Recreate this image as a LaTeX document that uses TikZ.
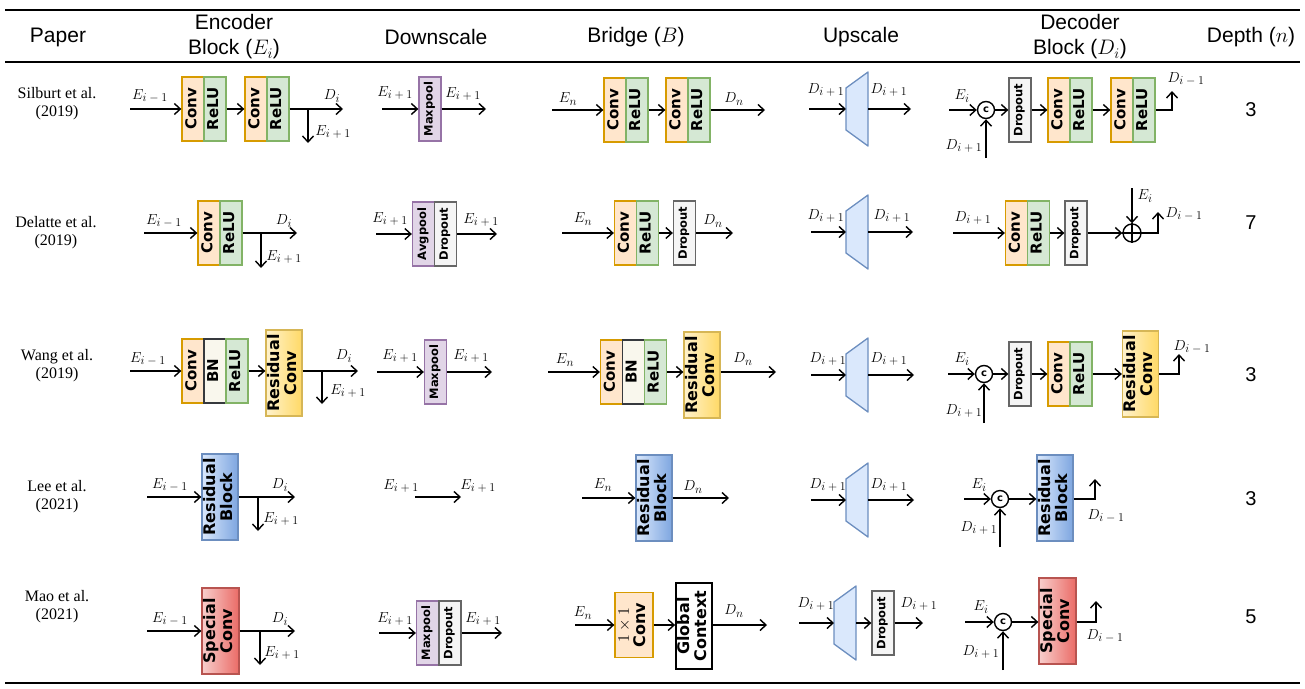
\documentclass[tikz,border=0pt]{standalone}
\usepackage{fix-cm}
\usepackage{fontspec}
\setmainfont{Liberation Serif}
\newfontfamily\hdrfont{Liberation Sans}
\newfontfamily\blkfont{DejaVu Sans}
\usepackage{graphicx}
\usetikzlibrary{arrows.meta}
\newcommand\sub[1]{_{\hbox{\fontsize{12}{12}\selectfont$#1$}}}
\definecolor{convF}{HTML}{FFE6CC}\definecolor{convD}{HTML}{D79B00}
\definecolor{reluF}{HTML}{D5E8D4}\definecolor{reluD}{HTML}{82B366}
\definecolor{bnF}{HTML}{F9F7ED}\definecolor{bnD}{HTML}{36393D}
\definecolor{poolF}{HTML}{E1D5E7}\definecolor{poolD}{HTML}{9673A6}
\definecolor{dropF}{HTML}{F5F5F5}\definecolor{dropD}{HTML}{666666}
\definecolor{rcF}{HTML}{FFF2CC}\definecolor{rcG}{HTML}{FFD966}\definecolor{rcD}{HTML}{D6B656}
\definecolor{rbF}{HTML}{DAE8FC}\definecolor{rbG}{HTML}{7EA6E0}\definecolor{rbD}{HTML}{6C8EBF}
\definecolor{scF}{HTML}{F8CECC}\definecolor{scG}{HTML}{EA6B66}\definecolor{scD}{HTML}{B85450}
\newcommand\vt[2][15]{\rotatebox{90}{\fontsize{#1}{#1}\selectfont\blkfont\bfseries\begin{tabular}{@{}c@{}}#2\end{tabular}}}
\tikzset{
 box/.style={draw, line width=1.3pt, inner sep=0pt, minimum width=22pt, minimum height=64pt},
 wide/.style={minimum width=36pt, minimum height=86pt},
 convb/.style={box, fill=convF, draw=convD},
 relub/.style={box, fill=reluF, draw=reluD},
 bnb/.style={box, fill=bnF, draw=bnD},
 poolb/.style={box, fill=poolF, draw=poolD},
 dropb/.style={box, fill=dropF, draw=dropD},
 rconvb/.style={box, wide, left color=rcF, right color=rcG, draw=rcD},
 rblockb/.style={box, wide, left color=rbF, right color=rbG, draw=rbD},
 specb/.style={box, wide, minimum width=37pt, left color=scF, right color=scG, draw=scD},
 gcb/.style={box, wide, fill=white, draw=black, line width=1.8pt},
 arr/.style={line width=1.4pt, -{Straight Barb[length=6pt,width=11pt]}},
 ln/.style={line width=1.4pt},
 lab/.style={inner sep=0pt, font=\fontsize{14.5}{15}\selectfont},
 paper/.style={align=center, font=\fontsize{16}{18}\selectfont},
 hdr/.style={align=center, font=\hdrfont\fontsize{21}{25}\selectfont},
 depth/.style={font=\hdrfont\fontsize{20}{20}\selectfont},
 cat/.style={circle, draw, fill=white, line width=1.4pt, minimum size=17pt, inner sep=0pt, font=\blkfont\bfseries\fontsize{10}{10}\selectfont},
 plus/.style={circle, draw, line width=1.4pt, minimum size=18pt, inner sep=0pt},
 trapS/.style={draw=rbD, fill=rbF, line width=1.3pt, line join=round},
}
\newcommand\trap[3]{%
 \coordinate (#1l) at (#2,#3);
 \coordinate (#1r) at ({#2+22},#3);
 \draw[trapS] (#2,{#3-21}) -- ({#2+22},{#3-37}) -- ({#2+22},{#3+37}) -- (#2,{#3+21}) -- cycle;}
\begin{document}
\begin{tikzpicture}[x=1pt,y=-1pt]
\useasboundingbox (0,0) rectangle (1305,688);
% rules
\draw[line width=2pt] (5,10) -- (1300,10);
\draw[line width=1.8pt] (5,62) -- (1300,62);
\draw[line width=2pt] (5,683) -- (1300,683);
% headers
\node[hdr] (hP) at (58,37) {Paper};
\node[hdr] (hE) at (234,37) {Encoder\\Block ($E_i$)};
\node[hdr] (hDs) at (436,37) {Downscale};
\node[hdr] (hB) at (636,37) {Bridge ($B$)};
\node[hdr] (hU) at (861,37) {Upscale};
\node[hdr] (hD) at (1080,37) {Decoder\\Block ($D_i$)};
\node[hdr] (hN) at (1251,37) {Depth ($n$)};

%% ---------------- Row 1 ----------------
\node[paper] (p1) at (57,104) {Silburt et al.\\(2019)};
\coordinate (r1in) at (130,109);
\node[convb] (r1c1) at (193,109) {\vt{Conv}};
\node[relub] (r1r1) at (215,109) {\vt{ReLU}};
\node[convb] (r1c2) at (256,109) {\vt{Conv}};
\node[relub] (r1r2) at (278,109) {\vt{ReLU}};
\coordinate (r1out) at (343,109);
\coordinate (r1br) at (308,109);
\coordinate (r1bre) at (308,143);
\draw[arr] (r1in) -- (r1c1);
\draw[arr] (r1r1) -- (r1c2);
\draw[arr] (r1r2) -- (r1out);
\draw[arr] (r1br) -- (r1bre);
\node[lab] (r1l1) at (150,96) {$E\sub{i-1}$};
\node[lab] (r1l2) at (332,96) {$D\sub{i}$};
\node[lab] (r1l3) at (333,132) {$E\sub{i+1}$};
% downscale
\coordinate (r1din) at (382,109);
\node[poolb] (r1mp) at (430,109) {\vt[11.5]{Maxpool}};
\coordinate (r1dout) at (486,109);
\draw[arr] (r1din) -- (r1mp);
\draw[arr] (r1mp) -- (r1dout);
\node[lab] (r1l4) at (395,93) {$E\sub{i+1}$};
\node[lab] (r1l5) at (463,94) {$E\sub{i+1}$};
% bridge
\coordinate (r1bin) at (552,110);
\node[convb] (r1bc1) at (615,110) {\vt{Conv}};
\node[relub] (r1br1) at (637,110) {\vt{ReLU}};
\node[convb] (r1bc2) at (677,110) {\vt{Conv}};
\node[relub] (r1br2) at (699,110) {\vt{ReLU}};
\coordinate (r1bout) at (765,110);
\draw[arr] (r1bin) -- (r1bc1);
\draw[arr] (r1br1) -- (r1bc2);
\draw[arr] (r1br2) -- (r1bout);
\node[lab] (r1l6) at (568,99) {$E\sub{n}$};
\node[lab] (r1l7) at (734,99) {$D\sub{n}$};
% upscale
\coordinate (r1uin) at (809,109);
\trap{r1t}{846}{109}
\coordinate (r1uout) at (911,109);
\draw[arr] (r1uin) -- (r1tl);
\draw[arr] (r1tr) -- (r1uout);
\node[lab] (r1l8) at (826,90) {$D\sub{i+1}$};
\node[lab] (r1l9) at (889,90) {$D\sub{i+1}$};
% decoder
\coordinate (r1ei) at (949,110);
\node[cat] (r1cat) at (986,110) {c};
\coordinate (r1db) at (986,158);
\node[dropb] (r1dd) at (1020,110) {\vt[11.5]{Dropout}};
\node[convb] (r1dc1) at (1059,110) {\vt{Conv}};
\node[relub] (r1dr1) at (1081,110) {\vt{ReLU}};
\node[convb] (r1dc2) at (1122,110) {\vt{Conv}};
\node[relub] (r1dr2) at (1144,110) {\vt{ReLU}};
\coordinate (r1dk) at (1172,110);
\coordinate (r1de) at (1172,91);
\draw[arr] (r1ei) -- (r1cat);
\draw[arr] (r1db) -- (r1cat);
\draw[arr] (r1cat) -- (r1dd);
\draw[arr] (r1dd) -- (r1dc1);
\draw[arr] (r1dr1) -- (r1dc2);
\draw[arr] (r1dr2) -- (r1dk) -- (r1de);
\node[lab] (r1l10) at (962,96) {$E\sub{i}$};
\node[lab] (r1l11) at (964,146) {$D\sub{i+1}$};
\node[lab] (r1l12) at (1186,79) {$D\sub{i-1}$};
\node[depth] (n1) at (1251,110) {3};

%% ---------------- Row 2 ----------------
\node[paper] (p2) at (56,233) {Delatte et al.\\(2019)};
\coordinate (r2in) at (144,233);
\node[convb] (r2c) at (209,233) {\vt{Conv}};
\node[relub] (r2r) at (231,233) {\vt{ReLU}};
\coordinate (r2out) at (297,233);
\coordinate (r2br) at (261,233);
\coordinate (r2bre) at (261,268);
\draw[arr] (r2in) -- (r2c);
\draw[arr] (r2r) -- (r2out);
\draw[arr] (r2br) -- (r2bre);
\node[lab] (r2l1) at (164,221) {$E\sub{i-1}$};
\node[lab] (r2l2) at (284,221) {$D\sub{i}$};
\node[lab] (r2l3) at (284,257) {$E\sub{i+1}$};
% downscale
\coordinate (r2din) at (376,234);
\node[poolb] (r2ap) at (423.5,234) {\vt[11.5]{Avgpool}};
\node[dropb] (r2dp) at (445.5,234) {\vt[11.5]{Dropout}};
\coordinate (r2dout) at (497,234);
\draw[arr] (r2din) -- (r2ap);
\draw[arr] (r2dp) -- (r2dout);
\node[lab] (r2l4) at (390,219) {$E\sub{i+1}$};
\node[lab] (r2l5) at (481,220) {$E\sub{i+1}$};
% bridge
\coordinate (r2bin) at (562,233);
\node[convb] (r2bc) at (625.5,233) {\vt{Conv}};
\node[relub] (r2brl) at (647.5,233) {\vt{ReLU}};
\node[dropb] (r2bd) at (684.5,233) {\vt[11.5]{Dropout}};
\coordinate (r2bout) at (733,233);
\draw[arr] (r2bin) -- (r2bc);
\draw[arr] (r2brl) -- (r2bd);
\draw[arr] (r2bd) -- (r2bout);
\node[lab] (r2l6) at (583,219) {$E\sub{n}$};
\node[lab] (r2l7) at (713,221) {$D\sub{n}$};
% upscale
\coordinate (r2uin) at (811,232);
\trap{r2t}{846}{232}
\coordinate (r2uout) at (913,232);
\draw[arr] (r2uin) -- (r2tl);
\draw[arr] (r2tr) -- (r2uout);
\node[lab] (r2l8) at (826,216) {$D\sub{i+1}$};
\node[lab] (r2l9) at (892,216) {$D\sub{i+1}$};
% decoder
\coordinate (r2din2) at (953,233);
\node[convb] (r2dc) at (1016.5,233) {\vt{Conv}};
\node[relub] (r2dr) at (1038.5,233) {\vt{ReLU}};
\node[dropb] (r2dd) at (1076,233) {\vt[11.5]{Dropout}};
\node[plus] (r2pl) at (1132,233) {};
\draw[ln] (r2pl.north) -- (r2pl.south) (r2pl.west) -- (r2pl.east);
\coordinate (r2et) at (1132,188);
\coordinate (r2dk) at (1158,233);
\coordinate (r2de) at (1158,212);
\draw[arr] (r2din2) -- (r2dc);
\draw[arr] (r2dr) -- (r2dd);
\draw[arr] (r2dd) -- (r2pl);
\draw[arr] (r2et) -- (r2pl);
\draw[arr] (r2pl) -- (r2dk) -- (r2de);
\node[lab] (r2l12) at (973,218) {$D\sub{i+1}$};
\node[lab] (r2l10) at (1145,196) {$E\sub{i}$};
\node[lab] (r2l11) at (1184,214) {$D\sub{i-1}$};
\node[depth] (n2) at (1251,223) {7};

%% ---------------- Row 3 ----------------
\node[paper] (p3) at (57,366) {Wang et al.\\(2019)};
\coordinate (r3in) at (130,371);
\node[convb] (r3c) at (193,371) {\vt{Conv}};
\node[bnb] (r3bn) at (215,371) {\vt{BN}};
\node[relub] (r3r) at (237,371) {\vt{ReLU}};
\node[rconvb] (r3rc) at (284,373) {\vt[16]{Residual\\Conv}};
\coordinate (r3out) at (358,371);
\coordinate (r3br) at (322,371);
\coordinate (r3bre) at (322,404);
\draw[arr] (r3in) -- (r3c);
\draw[arr] (r3r) -- (r3r -| r3rc.west);
\draw[arr] (r3rc.east |- r3out) -- (r3out);
\draw[arr] (r3br) -- (r3bre);
\node[lab] (r3l1) at (148,359) {$E\sub{i-1}$};
\node[lab] (r3l2) at (344,356) {$D\sub{i}$};
\node[lab] (r3l3) at (348,391) {$E\sub{i+1}$};
% downscale
\coordinate (r3din) at (377,372);
\node[poolb] (r3mp) at (435.5,372) {\vt[11.5]{Maxpool}};
\coordinate (r3dout) at (492,372);
\draw[arr] (r3din) -- (r3mp);
\draw[arr] (r3mp) -- (r3dout);
\node[lab] (r3l4) at (400,356) {$E\sub{i+1}$};
\node[lab] (r3l5) at (471,356) {$E\sub{i+1}$};
% bridge
\coordinate (r3bin) at (548,372);
\node[convb] (r3bc) at (611.5,372) {\vt{Conv}};
\node[bnb] (r3bbn) at (633.5,372) {\vt{BN}};
\node[relub] (r3brl) at (655.5,372) {\vt{ReLU}};
\node[rconvb] (r3brc) at (702,375) {\vt[16]{Residual\\Conv}};
\coordinate (r3bout) at (776,372);
\draw[arr] (r3bin) -- (r3bc);
\draw[arr] (r3brl) -- (r3brl -| r3brc.west);
\draw[arr] (r3brc.east |- r3bout) -- (r3bout);
\node[lab] (r3l6) at (565,360) {$E\sub{n}$};
\node[lab] (r3l7) at (743,359) {$D\sub{n}$};
% upscale
\coordinate (r3uin) at (811,375);
\trap{r3t}{846}{375}
\coordinate (r3uout) at (914,375);
\draw[arr] (r3uin) -- (r3tl);
\draw[arr] (r3tr) -- (r3uout);
\node[lab] (r3l8) at (828,359) {$D\sub{i+1}$};
\node[lab] (r3l9) at (889,359) {$D\sub{i+1}$};
% decoder
\coordinate (r3ei) at (948,374);
\node[cat] (r3cat) at (984,374) {c};
\coordinate (r3db) at (984,423);
\node[dropb] (r3dd) at (1020,374) {\vt[11.5]{Dropout}};
\node[convb] (r3dc) at (1059,374) {\vt{Conv}};
\node[relub] (r3dr) at (1081,374) {\vt{ReLU}};
\node[rconvb] (r3drc) at (1140.5,374) {\vt[16]{Residual\\Conv}};
\coordinate (r3dk) at (1179,374);
\coordinate (r3de) at (1179,354);
\draw[arr] (r3ei) -- (r3cat);
\draw[arr] (r3db) -- (r3cat);
\draw[arr] (r3cat) -- (r3dd);
\draw[arr] (r3dd) -- (r3dc);
\draw[arr] (r3dr) -- (r3drc);
\draw[arr] (r3drc) -- (r3dk) -- (r3de);
\node[lab] (r3l10) at (962,359) {$E\sub{i}$};
\node[lab] (r3l11) at (964,411) {$D\sub{i+1}$};
\node[lab] (r3l12) at (1192,347) {$D\sub{i-1}$};
\node[depth] (n3) at (1251,375) {3};

%% ---------------- Row 4 ----------------
\node[paper] (p4) at (57,497) {Lee et al.\\(2021)};
\coordinate (r4in) at (147,497);
\node[rblockb] (r4rb) at (220,497) {\vt[16]{Residual\\Block}};
\coordinate (r4out) at (295,497);
\coordinate (r4br) at (258,497);
\coordinate (r4bre) at (258,531);
\draw[arr] (r4in) -- (r4rb);
\draw[arr] (r4rb) -- (r4out);
\draw[arr] (r4br) -- (r4bre);
\node[lab] (r4l1) at (170,485) {$E\sub{i-1}$};
\node[lab] (r4l2) at (280,485) {$D\sub{i}$};
\node[lab] (r4l3) at (281,519) {$E\sub{i+1}$};
% downscale
\coordinate (r4din) at (415,497);
\coordinate (r4dout) at (461,497);
\draw[arr] (r4din) -- (r4dout);
\node[lab] (r4l4) at (401,486) {$E\sub{i+1}$};
\node[lab] (r4l5) at (478,486) {$E\sub{i+1}$};
% bridge
\coordinate (r4bin) at (582,498);
\node[rblockb] (r4brb) at (654,498) {\vt[16]{Residual\\Block}};
\coordinate (r4bout) at (729,498);
\draw[arr] (r4bin) -- (r4brb);
\draw[arr] (r4brb) -- (r4bout);
\node[lab] (r4l6) at (603,485) {$E\sub{n}$};
\node[lab] (r4l7) at (693,487) {$D\sub{n}$};
% upscale
\coordinate (r4uin) at (811,500);
\trap{r4t}{846}{500}
\coordinate (r4uout) at (914,500);
\draw[arr] (r4uin) -- (r4tl);
\draw[arr] (r4tr) -- (r4uout);
\node[lab] (r4l8) at (828,485) {$D\sub{i+1}$};
\node[lab] (r4l9) at (889,485) {$D\sub{i+1}$};
% decoder
\coordinate (r4ei) at (964,499);
\node[cat] (r4cat) at (1000,499) {c};
\coordinate (r4db) at (1000,547);
\node[rblockb] (r4drb) at (1055,498) {\vt[16]{Residual\\Block}};
\coordinate (r4dk) at (1095,499);
\coordinate (r4de) at (1095,479);
\draw[arr] (r4ei) -- (r4cat);
\draw[arr] (r4db) -- (r4cat);
\draw[arr] (r4cat) -- (r4cat -| r4drb.west);
\draw[arr] (r4drb.east |- r4dk) -- (r4dk) -- (r4de);
\node[lab] (r4l10) at (979,485) {$E\sub{i}$};
\node[lab] (r4l11) at (979,528) {$D\sub{i+1}$};
\node[lab] (r4l12) at (1106,516) {$D\sub{i-1}$};
\node[depth] (n4) at (1251,499) {3};

%% ---------------- Row 5 ----------------
\node[paper] (p5) at (57,607) {Mao et al.\\(2021)};
\coordinate (r5in) at (147,631);
\node[specb] (r5sc) at (220.5,631) {\vt[16]{Special\\Conv}};
\coordinate (r5out) at (295,631);
\coordinate (r5br) at (260,631);
\coordinate (r5bre) at (260,665);
\draw[arr] (r5in) -- (r5sc);
\draw[arr] (r5sc) -- (r5out);
\draw[arr] (r5br) -- (r5bre);
\node[lab] (r5l1) at (170,619) {$E\sub{i-1}$};
\node[lab] (r5l2) at (280,619) {$D\sub{i}$};
\node[lab] (r5l3) at (282,653) {$E\sub{i+1}$};
% downscale
\coordinate (r5din) at (379,633);
\node[poolb] (r5mp) at (427.5,633) {\vt[11.5]{Maxpool}};
\node[dropb] (r5dp) at (450,633) {\vt[11.5]{Dropout}};
\coordinate (r5dout) at (502,633);
\draw[arr] (r5din) -- (r5mp);
\draw[arr] (r5dp) -- (r5dout);
\node[lab] (r5l4) at (395,619) {$E\sub{i+1}$};
\node[lab] (r5l5) at (483,619) {$E\sub{i+1}$};
% bridge
\coordinate (r5bin) at (575,625);
\node[convb, minimum width=38pt, minimum height=65pt] (r5bc) at (634,625) {\rotatebox{90}{\fontsize{16}{16}\selectfont\begin{tabular}{@{}c@{}}$1\times1$\\{\blkfont\bfseries Conv}\end{tabular}}};
\node[gcb] (r5gc) at (694,626) {\vt[16]{Global\\Context}};
\coordinate (r5bout) at (767,625);
\draw[arr] (r5bin) -- (r5bc);
\draw[arr] (r5bc) -- (r5bc -| r5gc.west);
\draw[arr] (r5gc.east |- r5bout) -- (r5bout);
\node[lab] (r5l6) at (583,613) {$E\sub{n}$};
\node[lab] (r5l7) at (734,611) {$D\sub{n}$};
% upscale
\coordinate (r5uin) at (799,623);
\trap{r5t}{834}{623}
\node[dropb] (r5ud) at (883,623) {\vt[11.5]{Dropout}};
\coordinate (r5uout) at (923,623);
\draw[arr] (r5uin) -- (r5tl);
\draw[arr] (r5tr) -- (r5ud);
\draw[arr] (r5ud) -- (r5uout);
\node[lab] (r5l8) at (816,604) {$D\sub{i+1}$};
\node[lab] (r5l9) at (919,604) {$D\sub{i+1}$};
% decoder
\coordinate (r5ei) at (965,622);
\node[cat] (r5cat) at (1003,622) {c};
\coordinate (r5db) at (1003,670);
\node[specb] (r5dsc) at (1057.5,621) {\vt[16]{Special\\Conv}};
\coordinate (r5dk) at (1096,622);
\coordinate (r5de) at (1096,601);
\draw[arr] (r5ei) -- (r5cat);
\draw[arr] (r5db) -- (r5cat);
\draw[arr] (r5cat) -- (r5cat -| r5dsc.west);
\draw[arr] (r5dsc.east |- r5dk) -- (r5dk) -- (r5de);
\node[lab] (r5l10) at (981,607) {$E\sub{i}$};
\node[lab] (r5l11) at (981,652) {$D\sub{i+1}$};
\node[lab] (r5l12) at (1105,636) {$D\sub{i-1}$};
\node[depth] (n5) at (1251,617) {5};
\end{tikzpicture}
\end{document}
